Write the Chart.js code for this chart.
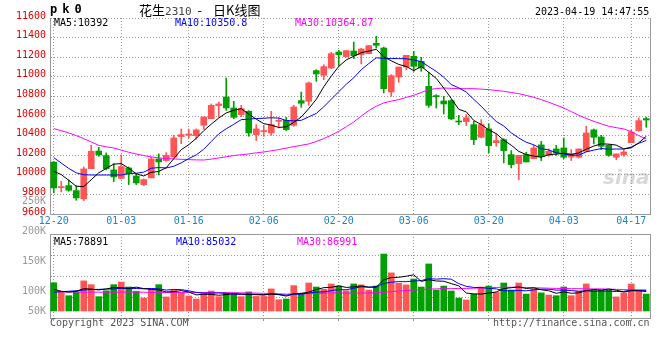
<!DOCTYPE html>
<html>
<head>
<meta charset="utf-8">
<title>pk0 花生2310 日K线图</title>
<script src="https://cdn.jsdelivr.net/npm/chart.js@4.4.1/dist/chart.umd.min.js"></script>
<style>
  body { margin: 0; background: #fff; }
  #wrap { position: relative; width: 660px; height: 360px; overflow: hidden; background: #fff; }
  canvas { position: absolute; left: 0; }
  #kline { top: 0; }
  #vol { top: 190px; }
  .txt { position: absolute; white-space: nowrap; font: 10px/12px 'DejaVu Sans Mono', monospace; color: #000; }
</style>
</head>
<body>
<div id="wrap">
  <canvas id="kline" width="660" height="230"></canvas>
  <canvas id="vol" width="660" height="170"></canvas>
  <div class="txt" style="left:50px;top:2px;font:bold 12px/14px 'DejaVu Sans Mono';letter-spacing:5px">pk0</div>
  <div class="txt" style="left:139px;top:1px;font:13px/18px 'Noto Sans CJK SC'">花生<span style="font:11px 'DejaVu Sans Mono';color:#444">2310</span><span style="margin:0 11px 0 6px">-</span>日K线图</div>
  <div class="txt" style="left:535px;top:6px">2023-04-19 14:47:55</div>
  <div class="txt" style="left:54px;top:17px">MA5:10392</div>
  <div class="txt" style="left:175px;top:17px;color:#00f">MA10:10350.8</div>
  <div class="txt" style="left:295px;top:17px;color:#f0f">MA30:10364.87</div>
  <div class="txt" style="left:54px;top:236px">MA5:78891</div>
  <div class="txt" style="left:176px;top:236px;color:#00f">MA10:85032</div>
  <div class="txt" style="left:297px;top:236px;color:#f0f">MA30:86991</div>
  <div class="txt" style="left:50px;top:317px;color:#555">Copyright 2023 SINA.COM</div>
  <div class="txt" style="left:493px;top:317px;color:#555">http://finance.sina.com.cn</div>
  <div class="txt" style="left:603px;top:166px;font:italic bold 20px/22px 'DejaVu Sans';color:rgba(160,160,160,0.4)">sina</div>
</div>
<script>
// trading days shown on the chart
const dates = ['12-20','12-21','12-22','12-23','12-26','12-27','12-28','12-29','12-30',
  '01-03','01-04','01-05','01-06','01-09','01-10','01-11','01-12','01-13','01-16','01-17','01-18','01-19','01-20',
  '01-30','01-31',
  '02-01','02-02','02-03','02-06','02-07','02-08','02-09','02-10','02-13','02-14','02-15','02-16','02-17',
  '02-20','02-21','02-22','02-23','02-24','02-27','02-28',
  '03-01','03-02','03-03','03-06','03-07','03-08','03-09','03-10','03-13','03-14','03-15','03-16','03-17',
  '03-20','03-21','03-22','03-23','03-24','03-27','03-28','03-29','03-30','03-31',
  '04-03','04-04','04-06','04-07','04-10','04-11','04-12','04-13','04-14','04-17','04-18','04-19'];
const tickDates = ['12-20','01-03','01-16','02-06','02-20','03-06','03-20','04-03','04-17'];

const opens = [10130,9868,9890,9839,9754,10063,10243,10196,10050,9964,
  10070,9988,9900,9968,10162,10145,10182,10390,10403,10400,
  10505,10573,10706,10794,10682,10614,10648,10410,10440,10427,
  10546,10556,10505,10757,10750,11063,11015,11090,11253,11206,
  11263,11226,11236,11342,11294,10845,10998,11100,11209,11158,
  10903,10808,10753,10757,10546,10543,10512,10383,10468,10328,
  10359,10206,10114,10206,10165,10305,10199,10264,10274,10182,
  10179,10240,10458,10386,10301,10179,10206,10328,10451,10573];
const highs = [10135,9934,9948,9890,10080,10301,10281,10223,10114,10203,
  10080,10009,9958,10179,10213,10226,10403,10468,10468,10468,
  10590,10723,10743,10988,10750,10709,10655,10512,10505,10648,
  10580,10587,10709,10845,10947,11073,11124,11250,11270,11270,
  11355,11290,11318,11413,11304,11022,11100,11219,11260,11199,
  11046,10818,10801,10767,10607,10614,10546,10563,10519,10417,
  10369,10247,10199,10230,10301,10342,10264,10301,10376,10257,
  10264,10495,10468,10403,10308,10213,10250,10458,10580,10587];
const lows = [9815,9825,9832,9740,9737,10063,10189,10050,9931,9958,
  9900,9900,9890,9968,9998,10138,10182,10318,10376,10366,
  10464,10573,10587,10658,10573,10594,10393,10349,10393,10403,
  10478,10451,10495,10689,10709,10954,10971,11083,11114,11202,
  11185,11131,11236,11294,10835,10801,10944,11073,11056,11056,
  10689,10682,10621,10563,10512,10502,10308,10376,10226,10291,
  10121,10070,9951,10131,10165,10145,10189,10199,10165,10145,
  10172,10240,10315,10257,10189,10155,10189,10328,10444,10485];
const closes = [9866,9880,9842,9764,10060,10240,10203,10063,9978,10084,
  10009,9917,9951,10162,10131,10199,10376,10410,10417,10458,
  10590,10709,10723,10682,10587,10675,10427,10468,10451,10512,
  10556,10461,10692,10730,10937,11029,11104,11236,11226,11267,
  11216,11284,11318,11321,10879,11012,11100,11219,11107,11090,
  10709,10797,10723,10570,10539,10583,10359,10512,10298,10349,
  10247,10104,10199,10131,10274,10186,10240,10223,10179,10213,
  10264,10427,10383,10291,10199,10213,10233,10437,10553,10559];

// moving averages
const ma5 = [10036,10002,9944,9883,9880,9950,10020,10066,10109,10114,
  10067,10010,9988,10025,10034,10072,10164,10256,10307,10372,
  10450,10517,10579,10632,10658,10675,10619,10568,10522,10507,
  10483,10490,10534,10590,10675,10770,10898,11007,11106,11172,
  11210,11246,11262,11281,11204,11163,11126,11106,11063,11106,
  11045,10984,10885,10778,10668,10642,10555,10513,10458,10420,
  10353,10302,10239,10206,10191,10179,10206,10211,10220,10208,
  10224,10261,10293,10316,10313,10303,10264,10275,10327,10392];
const ma10 = [10175,10120,10065,10020,10000,9998,9998,9998,9998,9998,
  10012,10016,10027,10067,10074,10070,10087,10122,10166,10203,
  10261,10340,10418,10470,10515,10563,10568,10574,10577,10582,
  10579,10554,10551,10556,10591,10626,10694,10771,10848,10924,
  10990,11072,11135,11194,11188,11186,11186,11184,11172,11155,
  11104,11055,10996,10921,10887,10844,10770,10699,10618,10544,
  10498,10428,10376,10332,10306,10266,10254,10225,10213,10200,
  10201,10234,10252,10268,10261,10263,10263,10284,10321,10351];
const ma30 = [10471,10450,10427,10400,10369,10335,10301,10286,10274,10252,
  10230,10212,10196,10183,10172,10166,10162,10158,10155,10152,
  10151,10160,10172,10184,10196,10205,10213,10224,10233,10245,
  10257,10272,10288,10301,10315,10340,10369,10405,10444,10490,
  10539,10600,10655,10700,10733,10752,10767,10790,10811,10840,
  10869,10880,10886,10882,10879,10879,10879,10874,10869,10861,
  10852,10840,10828,10810,10791,10767,10740,10712,10682,10645,
  10607,10575,10546,10520,10495,10481,10468,10440,10400,10365];

const volumes = [120000,79000,65000,82000,128000,112000,61000,86000,112000,123000,
  102000,84000,55000,94000,112000,60000,89000,78000,64000,51000,
  74000,85000,61000,77000,74000,61000,81000,62000,62000,94000,
  48000,51000,108000,75000,119000,102000,92000,115000,106000,86000,
  115000,111000,89000,106000,242000,162000,118000,111000,136000,102000,
  200000,89000,106000,85000,55000,47000,71000,102000,106000,79000,
  119000,89000,119000,72000,94000,77000,68000,65000,102000,65000,
  85000,115000,89000,89000,89000,60000,77000,115000,89000,72000];
const vma5 = [92000,84000,80000,84000,94800,93200,89600,93800,99800,98800,
  96800,101400,95200,91600,89400,81000,82000,86600,80600,68400,
  71200,70400,67000,69600,74200,71600,70800,71000,68000,72000,
  69400,63400,72600,75200,80200,91000,99200,100600,106800,100200,
  102800,106600,101400,101400,132600,142000,143400,147800,153800,125800,
  133400,127600,126600,116400,107000,76400,72800,72000,76200,81000,
  95400,99000,102400,95600,98600,90200,86000,75200,81200,75400,
  77000,86400,91200,88600,93400,88400,80800,86000,86000,82600];
const vma10 = [80000,82000,84000,86000,89000,91000,92000,93000,94000,96800,
  95000,95500,94500,95700,94100,88900,91700,90900,86100,78900,
  76100,76200,76800,75100,71300,71400,70600,69000,68800,73100,
  70500,67100,71800,71600,76100,80200,81300,86600,91000,90200,
  96900,102900,101000,104100,116400,122400,125000,124600,127600,129200,
  137700,135500,137200,135100,116400,104900,100200,99300,96300,94000,
  85900,85900,87200,85900,89800,92800,92500,88800,88400,87000,
  83600,86200,83200,84900,84400,82700,83600,88600,87300,88000];
const vma30 = [82000,82000,81000,81000,80000,80000,80000,80000,80000,80000,
  80000,80000,80000,79000,79000,79000,79000,79000,79000,79000,
  79000,78000,78000,78000,78000,77000,77000,76000,75000,74000,
  73000,72000,72000,73000,74000,75000,76000,77000,77000,76000,
  76000,76000,77000,78000,80000,82000,85000,87000,89000,91000,
  93000,94000,95000,95000,96000,96000,97000,98000,99000,100000,
  101000,101000,101000,100000,99000,98000,97000,96000,96000,95000,
  95000,94000,94000,94000,93000,92000,91000,90000,89000,89000];
const volTickLabels = ['250K','200K','150K','100K','50K'];

const UP = '#ff5555', DOWN = '#00a000';
const GRID = '#999999', FRAME = '#999999';
const MONO = "'DejaVu Sans Mono', monospace";

const candleColors = closes.map((c, i) => c > opens[i] ? UP : DOWN);

// right edge (and optionally top edge) of the plot frame
const framePlugin = {
  id: 'frame',
  afterDraw(chart, args, opts) {
    const { ctx, chartArea: a } = chart;
    ctx.save();
    ctx.strokeStyle = FRAME;
    ctx.lineWidth = 1;
    ctx.beginPath();
    ctx.moveTo(a.right + 0.5, a.top);
    ctx.lineTo(a.right + 0.5, a.bottom);
    if (opts.top) {
      ctx.moveTo(a.left, a.top + 0.5);
      ctx.lineTo(a.right + 1, a.top + 0.5);
    }
    ctx.stroke();
    ctx.restore();
  }
};

function maLine(data, color) {
  return { type: 'line', data, borderColor: color, borderWidth: 1, pointRadius: 0,
           tension: 0, fill: false, order: 0 };
}

function xAxis(showLabels, height) {
  return {
    grid: { color: GRID, offset: false, drawTicks: !showLabels, tickLength: 3 },
    border: { color: FRAME, dash: [1, 2] },
    ticks: { display: showLabels, autoSkip: false, maxRotation: 0, color: '#1e82c8',
             font: { family: MONO, size: 10 }, padding: 1 },
    afterBuildTicks: s => { s.ticks = s.ticks.filter(t => tickDates.includes(dates[t.value])); },
    afterFit: s => { s.height = height; }
  };
}

// K line panel
new Chart(document.getElementById('kline'), {
  type: 'bar',
  data: {
    labels: dates,
    datasets: [
      maLine(ma5, '#000000'),
      maLine(ma10, '#0000ff'),
      maLine(ma30, '#ff00ff'),
      { data: lows.map((l, i) => [l, highs[i]]), backgroundColor: candleColors,
        barThickness: 1, grouped: false, order: 2 },
      { data: opens.map((o, i) => [o, closes[i]]), backgroundColor: candleColors,
        barThickness: 6, minBarLength: 1, grouped: false, order: 1 }
    ]
  },
  options: {
    responsive: false, animation: false, devicePixelRatio: 1,
    layout: { padding: { top: 18, right: 10, left: 0, bottom: 0 } },
    plugins: { legend: { display: false }, tooltip: { enabled: false }, frame: { top: false } },
    scales: {
      x: xAxis(true, 16),
      y: {
        min: 9600, max: 11600,
        ticks: { stepSize: 200, color: '#e00000', font: { family: MONO, size: 10 }, padding: 4,
                 labelOffset: -2, callback: v => String(v) },
        grid: { color: GRID, drawTicks: false },
        border: { color: FRAME, dash: [1, 2] },
        afterFit: s => { s.width = 50; }
      }
    }
  },
  plugins: [framePlugin]
});

// volume panel: 0 sits 7px above the bottom edge, 4250 per pixel
const VOL_PER_PX = 4250;
new Chart(document.getElementById('vol'), {
  type: 'bar',
  data: {
    labels: dates,
    datasets: [
      maLine(vma5, '#000000'),
      maLine(vma10, '#0000ff'),
      maLine(vma30, '#ff00ff'),
      { data: volumes, backgroundColor: candleColors, barThickness: 6, grouped: false, order: 1 }
    ]
  },
  options: {
    responsive: false, animation: false, devicePixelRatio: 1,
    layout: { padding: { top: 44, right: 10, left: 0, bottom: 0 } },
    plugins: { legend: { display: false }, tooltip: { enabled: false }, frame: { top: true } },
    scales: {
      x: xAxis(false, 42),
      y: {
        min: -7 * VOL_PER_PX, max: 77 * VOL_PER_PX,
        ticks: { display: false },
        grid: { color: GRID, drawTicks: false },
        border: { color: FRAME, dash: [1, 2] },
        afterBuildTicks: s => {
          const step = (s.max - s.min) / 4;
          s.ticks = [1, 2, 3].map(k => ({ value: s.min + k * step }));
        },
        afterFit: s => { s.width = 50; }
      }
    }
  },
  plugins: [framePlugin]
});

// volume axis labels (sina draws them offset from the grid)
const wrap = document.getElementById('wrap');
volTickLabels.forEach((txt, k) => {
  const d = document.createElement('div');
  d.className = 'txt';
  d.textContent = txt;
  d.style.cssText = 'left:0;width:46px;text-align:right;color:#999;top:' + (Math.min(201 + 30 * k, 311) - 6) + 'px';
  wrap.appendChild(d);
});
</script>
</body>
</html>
